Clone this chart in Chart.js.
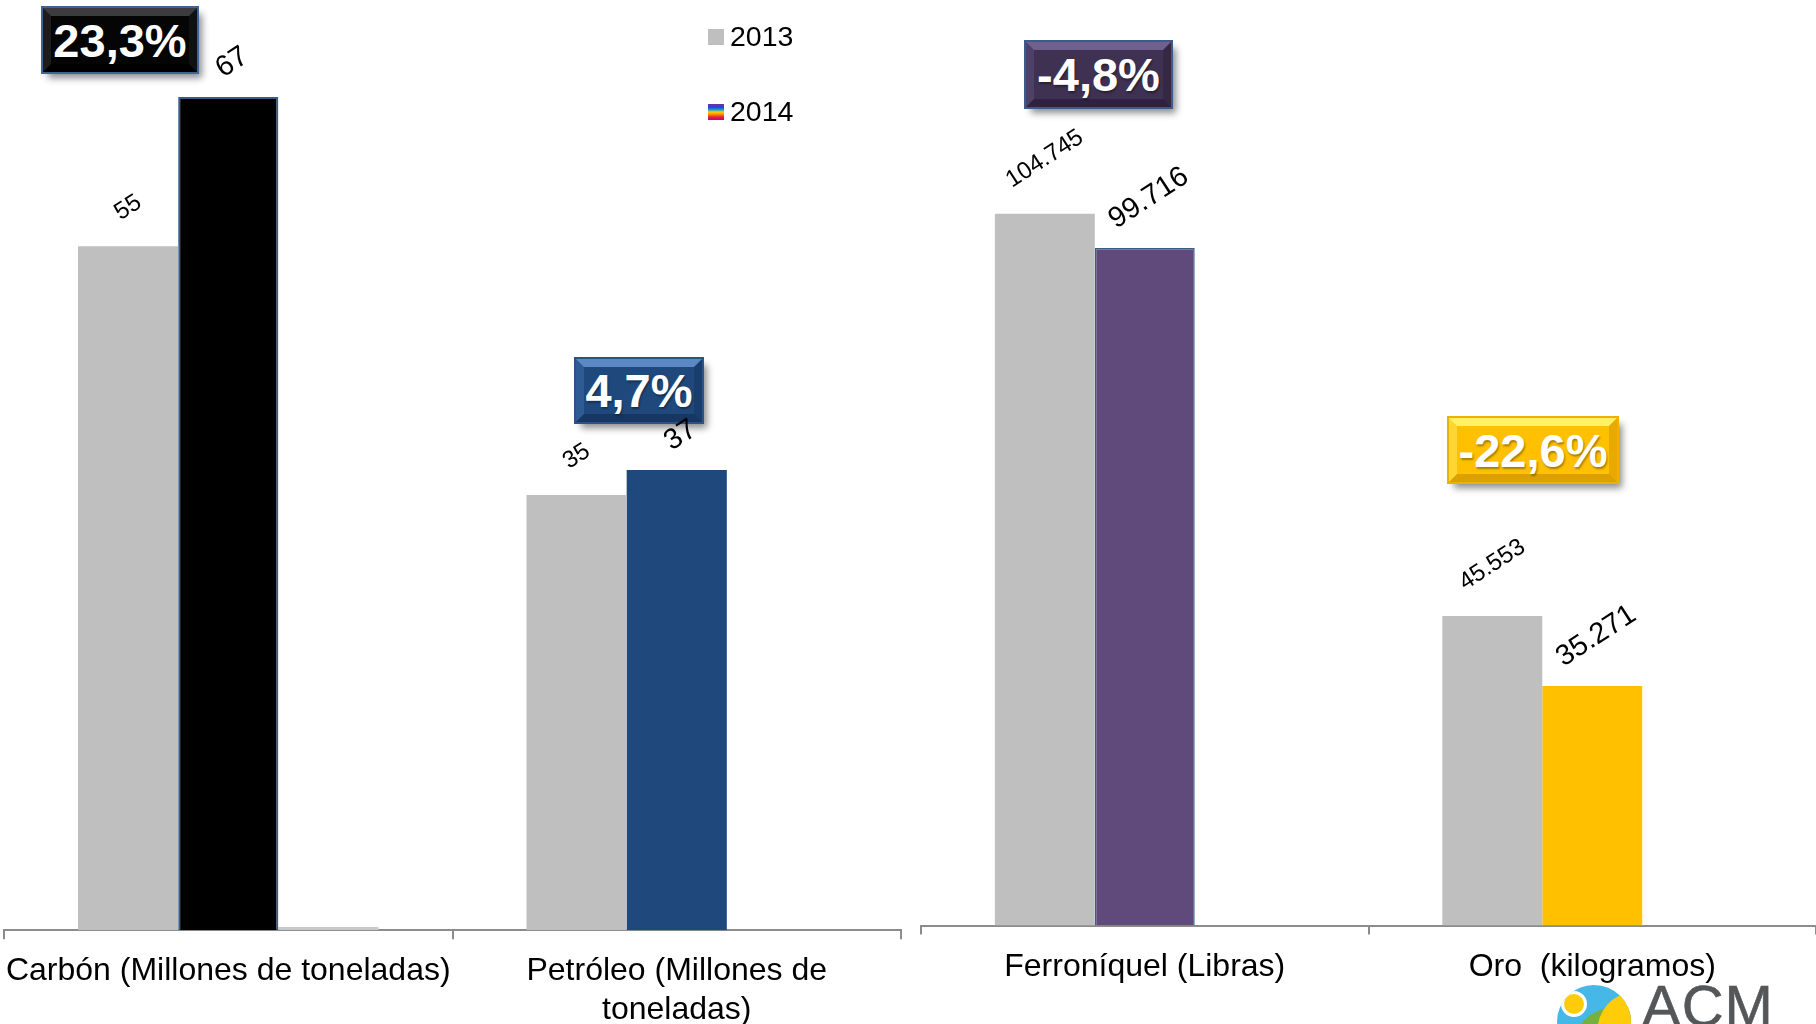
<!DOCTYPE html>
<html>
<head>
<meta charset="utf-8">
<script src="https://cdn.jsdelivr.net/npm/chart.js@4.4.1/dist/chart.umd.min.js"></script>
<style>
  html, body { margin: 0; padding: 0; background: #fff; }
  #page { position: relative; width: 1816px; height: 1024px; overflow: hidden; font-family: "Liberation Sans", Arial, sans-serif; }
  canvas { position: absolute; top: 0; z-index: 2; }
  #left { left: 0; }
  #right { left: 908px; }
  .badge {
    position: absolute; z-index: 1; box-sizing: border-box; color: #fff; font-weight: bold; font-size: 47px;
    display: flex; align-items: center; justify-content: center; border-style: solid; border-width: 8px;
    box-shadow: 0 0 0 2px var(--ring), 5px 6px 7px rgba(0,0,0,0.45);
    text-shadow: 1px 2px 2px rgba(0,0,0,0.35); line-height: 1;
  }
  .legend { position: absolute; z-index: 3; left: 708px; font-size: 28.5px; color: #000; display: flex; align-items: center; }
  .legend span.sw { width: 16px; height: 16px; margin-right: 6px; display: inline-block; }
  #logo { position: absolute; z-index: 3; left: 1557px; top: 985px; width: 74px; height: 74px; border-radius: 50%; overflow: hidden; background: #45b8e8; }
  #logo .g { position: absolute; left: 14px; top: 22px; width: 90px; height: 90px; border-radius: 50%; background: #76b041; }
  #logo .y { position: absolute; left: 40px; top: 8px; width: 70px; height: 80px; border-radius: 50%; background: #ffcc0a; }
  #logo .s { position: absolute; left: 4px; top: 6px; width: 20px; height: 20px; border-radius: 50%; background: #ffcc0a; border: 3px solid #fff; }
  #acm { position: absolute; z-index: 3; left: 1642px; top: 977px; font-size: 58px; line-height: 1; color: #555658; letter-spacing: 1px; -webkit-text-stroke: 0.6px #555658; }
</style>
</head>
<body>
<div id="page">
  <canvas id="left" width="908" height="1044"></canvas>
  <canvas id="right" width="908" height="1024"></canvas>
  <div id="legend"></div>
  <div id="badges"></div>
  <div id="logo"><div class="g"></div><div class="y"></div><div class="s"></div></div>
  <div id="acm">ACM</div>
</div>
<script>
// data
const seriesNames = ['2013', '2014'];
const leftCategories = ['Carbón (Millones de toneladas)', ['Petróleo (Millones de', 'toneladas)']];
const left2013 = [55, 35];
const left2014 = [67, 37];
const leftExtra = [0.25, 0];
const rightCategories = ['Ferroníquel (Libras)', 'Oro  (kilogramos)'];
const right2013 = [104745, 45553];
const right2014 = [99716, 35271];
const rightExtra = [0, 0];
const badgeTexts = ['23,3%', '4,7%', '-4,8%', '-22,6%'];

const gray2013 = '#bfbfbf';
const leftColors2014 = ['#000000', '#1f497d'];
const rightColors2014 = ['#604a7b', '#ffc000'];
const FONT = '"Liberation Sans", Arial, sans-serif';

function fmt(v) {
    return Math.round(v).toString().replace(/\B(?=(\d{3})+(?!\d))/g, '.');
}

// rotated value labels above the bars
const valueLabels = {
    id: 'valueLabels',
    afterDatasetsDraw(chart, args, opts) {
        const ctx = chart.ctx;
        const a = 33 * Math.PI / 180;
        opts.series.forEach((di, k) => {
            const meta = chart.getDatasetMeta(di);
            meta.data.forEach((bar, j) => {
                const text = fmt(chart.data.datasets[di].data[j]);
                const size = opts.sizes[k];
                ctx.save();
                ctx.font = size + 'px ' + FONT;
                const w = ctx.measureText(text).width;
                const h = size * 0.716;
                const half = (w * Math.sin(a) + h * Math.cos(a)) / 2;
                ctx.translate(bar.x + opts.shift[k], bar.y - opts.gap[k] - half);
                ctx.rotate(-a);
                ctx.fillStyle = '#000';
                ctx.textAlign = 'center';
                ctx.textBaseline = 'middle';
                ctx.fillText(text, 0, 0);
                ctx.restore();
            });
        });
    }
};

function makeChart(id, labels, d2013, d2014, extra, colors2014, borders, ymax, padding) {
    return new Chart(document.getElementById(id), {
        type: 'bar',
        data: {
            labels: labels,
            datasets: [
                { label: seriesNames[0], data: d2013, backgroundColor: gray2013, borderWidth: 0 },
                { label: seriesNames[1], data: d2014, backgroundColor: colors2014, borderColor: '#385d8a', borderWidth: borders },
                { label: '', data: extra, backgroundColor: '#c9c9c9', borderWidth: 0 }
            ]
        },
        options: {
            responsive: false,
            animation: false,
            datasets: { bar: { categoryPercentage: 0.67, barPercentage: 1.0 } },
            layout: { padding: padding },
            plugins: {
                legend: { display: false },
                tooltip: { enabled: false },
                valueLabels: { series: [0, 1], sizes: [24, 29], gap: [24, 17], shift: [0, 4] }
            },
            scales: {
                x: {
                    grid: { offset: true, drawOnChartArea: false, drawTicks: true, tickLength: 9, color: '#8c8c8c', lineWidth: 2 },
                    border: { display: true, color: '#8c8c8c', width: 2 },
                    ticks: { color: '#000', font: { family: FONT, size: 32 }, padding: 13, maxRotation: 0, autoSkip: false },
                    afterFit(scale) { scale.paddingLeft = 0; scale.paddingRight = 0; }
                },
                y: { display: false, min: 0, max: ymax }
            }
        },
        plugins: [valueLabels]
    });
}

makeChart('left', leftCategories, left2013, left2014, leftExtra, leftColors2014, [2, 0], 74.8,
    { left: 4, right: 7, top: 0, bottom: 2 });
makeChart('right', rightCategories, right2013, right2014, rightExtra, rightColors2014, [1.5, 0], 136200,
    { left: 13, right: 0, top: 0, bottom: 25 });

// legend
const legendSwatches = [gray2013,
    'linear-gradient(to bottom, #7030a0 0%, #2f3fd0 20%, #00a0e0 35%, #ffd000 50%, #ff8a00 65%, #e8203c 82%, #c0008c 100%)'];
const legendTops = [20, 95];
const legendEl = document.getElementById('legend');
seriesNames.forEach((name, i) => {
    const item = document.createElement('div');
    item.className = 'legend';
    item.style.top = legendTops[i] + 'px';
    item.innerHTML = '<span class="sw" style="background:' + legendSwatches[i] + '"></span>' + name;
    legendEl.appendChild(item);
});

// change badges
const badgeBoxes = [
    { x: 43, y: 8, w: 154, h: 64, fill: '#050505', t: '#3c3c3c', l: '#1c1c1c', r: '#111', b: '#000', ring: '#3d6399' },
    { x: 576, y: 359, w: 126, h: 63, fill: '#1f497d', t: '#5c88c6', l: '#2f5b94', r: '#1a3e6b', b: '#173762', ring: '#2d5288' },
    { x: 1026, y: 42, w: 145, h: 65, fill: '#3f3151', t: '#6f608e', l: '#4e4066', r: '#352844', b: '#2e2240', ring: '#3c5a8a' },
    { x: 1449, y: 418, w: 168, h: 64, fill: '#ffc000', t: '#fff06a', l: '#ffd633', r: '#e8aa00', b: '#dca000', ring: '#e9b300' }
];
const badgeEl = document.getElementById('badges');
badgeTexts.forEach((txt, i) => {
    const bx = badgeBoxes[i];
    const d = document.createElement('div');
    d.className = 'badge';
    d.textContent = txt;
    d.style.cssText = 'left:' + bx.x + 'px;top:' + bx.y + 'px;width:' + bx.w + 'px;height:' + bx.h + 'px;background:' + bx.fill +
        ';border-color:' + bx.t + ' ' + bx.r + ' ' + bx.b + ' ' + bx.l + ';--ring:' + bx.ring + ';';
    badgeEl.appendChild(d);
});
</script>
</body>
</html>
